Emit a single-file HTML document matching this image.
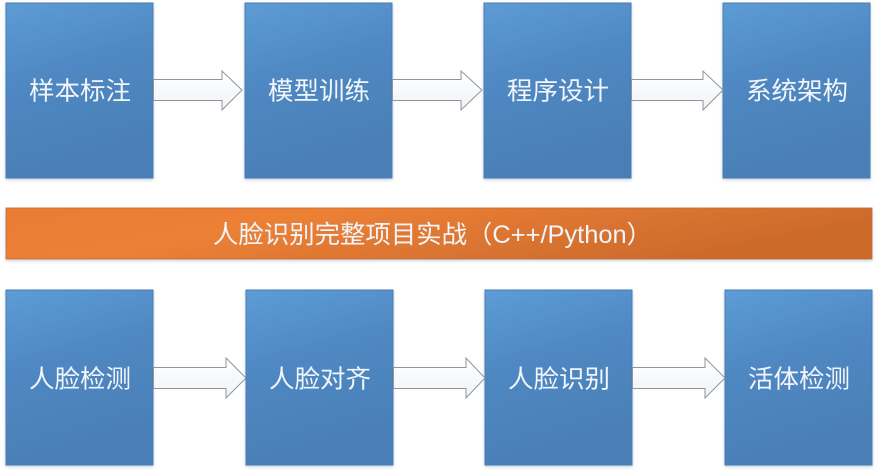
<!DOCTYPE html>
<html><head><meta charset="utf-8"><style>
html,body{margin:0;padding:0;background:#fff;width:880px;height:475px;overflow:hidden}
svg{display:block}
text{font-family:"Liberation Sans","Noto Sans CJK SC",sans-serif;fill:#f2f6fb}
</style></head><body>
<svg width="880" height="475" viewBox="0 0 880 475" xmlns="http://www.w3.org/2000/svg">
<defs>
<linearGradient id="bg" x1="0" y1="0" x2="0.25" y2="1">
<stop offset="0" stop-color="#5d9cd6"/>
<stop offset="0.45" stop-color="#4f88c2"/>
<stop offset="1" stop-color="#4a7fb6"/>
</linearGradient>
<linearGradient id="og" x1="0" y1="0" x2="1" y2="0.3">
<stop offset="0" stop-color="#ea7c34"/>
<stop offset="0.35" stop-color="#ec8036"/>
<stop offset="1" stop-color="#cc6a2c"/>
</linearGradient>
<linearGradient id="ag" x1="0" y1="0" x2="0" y2="1">
<stop offset="0" stop-color="#ffffff"/>
<stop offset="1" stop-color="#f0f2f5"/>
</linearGradient>
<filter id="sh" x="-10%" y="-10%" width="120%" height="120%">
<feDropShadow dx="0" dy="1.5" stdDeviation="1.5" flood-color="#8aa4c0" flood-opacity="0.5"/>
</filter>
</defs>

<!-- top row boxes -->
<g filter="url(#sh)">
<rect x="6" y="3" width="147" height="175" fill="url(#bg)" stroke="#4a7db3" stroke-width="1"/>
<rect x="245" y="3" width="147" height="175" fill="url(#bg)" stroke="#4a7db3" stroke-width="1"/>
<rect x="484" y="3" width="147" height="175" fill="url(#bg)" stroke="#4a7db3" stroke-width="1"/>
<rect x="723" y="3" width="147" height="175" fill="url(#bg)" stroke="#4a7db3" stroke-width="1"/>
</g>
<text x="29" y="99.5" font-size="25" textLength="102" lengthAdjust="spacingAndGlyphs">样本标注</text>
<text x="268" y="99.5" font-size="25" textLength="102" lengthAdjust="spacingAndGlyphs">模型训练</text>
<text x="507" y="99.5" font-size="25" textLength="102" lengthAdjust="spacingAndGlyphs">程序设计</text>
<text x="746" y="99.5" font-size="25" textLength="102" lengthAdjust="spacingAndGlyphs">系统架构</text>

<!-- top arrows -->
<g fill="url(#ag)" stroke="#8e959e" stroke-width="1">
<path d="M153.5 79.5 H222 V71 L242 90 L222 110 V100.5 H153.5 Z"/>
<path d="M392.5 79.5 H461 V71 L482 90 L461 110 V100.5 H392.5 Z"/>
<path d="M631.5 79.5 H703 V71 L723 90 L703 110 V100.5 H631.5 Z"/>
</g>

<!-- orange bar -->
<rect x="6" y="208" width="866" height="51" fill="url(#og)" stroke="#c9692c" stroke-width="0.8" filter="url(#sh)"/>
<text x="213" y="243" font-size="25" textLength="439" lengthAdjust="spacingAndGlyphs">人脸识别完整项目实战（C++/Python）</text>

<!-- bottom row boxes -->
<g filter="url(#sh)">
<rect x="6" y="290" width="147" height="175" fill="url(#bg)" stroke="#4a7db3" stroke-width="1"/>
<rect x="246" y="290" width="147" height="175" fill="url(#bg)" stroke="#4a7db3" stroke-width="1"/>
<rect x="485" y="290" width="147" height="175" fill="url(#bg)" stroke="#4a7db3" stroke-width="1"/>
<rect x="725" y="290" width="147" height="175" fill="url(#bg)" stroke="#4a7db3" stroke-width="1"/>
</g>
<text x="29" y="387.5" font-size="25" textLength="102" lengthAdjust="spacingAndGlyphs">人脸检测</text>
<text x="269" y="387.5" font-size="25" textLength="102" lengthAdjust="spacingAndGlyphs">人脸对齐</text>
<text x="508" y="387.5" font-size="25" textLength="102" lengthAdjust="spacingAndGlyphs">人脸识别</text>
<text x="748" y="387.5" font-size="25" textLength="102" lengthAdjust="spacingAndGlyphs">活体检测</text>

<!-- bottom arrows -->
<g fill="url(#ag)" stroke="#8e959e" stroke-width="1">
<path d="M153.5 367.5 H226 V358 L246 378 L226 398 V388.5 H153.5 Z"/>
<path d="M393.5 367.5 H466 V358 L485 378 L466 398 V388.5 H393.5 Z"/>
<path d="M632.5 367.5 H705 V358 L725 378 L705 398 V388.5 H632.5 Z"/>
</g>
</svg>
</body></html>
